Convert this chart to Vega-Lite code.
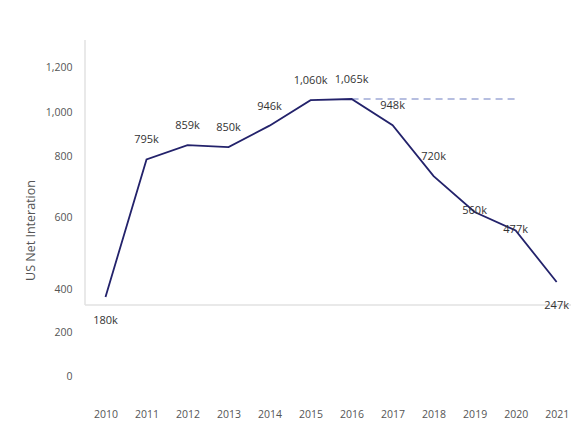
{
  "$schema": "https://vega.github.io/schema/vega-lite/v6.json",
  "autosize": "none",
  "padding": {"left": 85, "top": 40, "right": 0, "bottom": 23},
  "width": 486,
  "height": 360,
  "background": "white",
  "config": {"view": {"stroke": null}, "font": "Open Sans"},
  "datasets": {
    "net": [
      {"year": 2010, "v": 180},
      {"year": 2011, "v": 795},
      {"year": 2012, "v": 859},
      {"year": 2013, "v": 850},
      {"year": 2014, "v": 946},
      {"year": 2015, "v": 1060},
      {"year": 2016, "v": 1065},
      {"year": 2017, "v": 948},
      {"year": 2018, "v": 720},
      {"year": 2019, "v": 560},
      {"year": 2020, "v": 477},
      {"year": 2021, "v": 247}
    ],
    "frame": [
      {"x": 2009.5, "x2": 2009.5, "y": 144, "y2": 1329},
      {"x": 2009.5, "x2": 2021.35, "y": 144, "y2": 144}
    ],
    "ref": [
      {"x": 2016, "x2": 2020, "y": 1065}
    ]
  },
  "layer": [
    {
      "data": {"name": "frame"},
      "mark": {"type": "rule", "color": "#e2e2e2", "strokeWidth": 1.5},
      "encoding": {
        "x": {"field": "x", "type": "quantitative", "scale": {"domain": [2009.5, 2021.35], "nice": false, "zero": false},
          "axis": {"values": [2010, 2011, 2012, 2013, 2014, 2015, 2016, 2017, 2018, 2019, 2020, 2021], "format": "d", "title": null, "domain": false, "ticks": false, "grid": false, "labelPadding": 9, "labelColor": "#555555", "labelFontSize": 10.5, "labelFlush": false}},
        "x2": {"field": "x2"},
        "y": {"field": "y", "type": "quantitative", "scale": {"domain": [-281, 1329], "nice": false, "zero": false},
          "axis": {"values": [1204, 1007, 806, 533, 211, 23, -178],
            "labelExpr": "datum.value > 1100 ? '1,200' : datum.value > 900 ? '1,000' : datum.value > 700 ? '800' : datum.value > 400 ? '600' : datum.value > 100 ? '400' : datum.value > 0 ? '200' : '0'",
            "title": "US Net Interation", "titleFontWeight": "normal", "titleFontSize": 12.5, "titleColor": "#555555", "titleX": -55, "titleY": 190, "titleAngle": -90, "titleAlign": "center", "titleBaseline": "middle",
            "domain": false, "ticks": false, "grid": false, "labelPadding": 13, "labelColor": "#555555", "labelFontSize": 10.5}},
        "y2": {"field": "y2"}
      }
    },
    {
      "data": {"name": "ref"},
      "mark": {"type": "rule", "color": "#9fa9d6", "strokeWidth": 1.5, "strokeDash": [7, 5]},
      "encoding": {
        "x": {"field": "x", "type": "quantitative"},
        "x2": {"field": "x2"},
        "y": {"field": "y", "type": "quantitative"}
      }
    },
    {
      "data": {"name": "net"},
      "layer": [
        {
          "mark": {"type": "line", "color": "#23226b", "strokeWidth": 1.8},
          "encoding": {
            "x": {"field": "year", "type": "quantitative"},
            "y": {"field": "v", "type": "quantitative"}
          }
        },
        {
          "transform": [
            {"filter": {"field": "year", "oneOf": [2011, 2012, 2013, 2014, 2015, 2016, 2017, 2018]}},
            {"calculate": "format(datum.v, ',') + 'k'", "as": "label"}
          ],
          "mark": {"type": "text", "dy": -19, "fontSize": 11, "color": "#333333"},
          "encoding": {
            "x": {"field": "year", "type": "quantitative"},
            "y": {"field": "v", "type": "quantitative"},
            "text": {"field": "label"}
          }
        },
        {
          "transform": [
            {"filter": {"field": "year", "oneOf": [2010, 2021]}},
            {"calculate": "format(datum.v, ',') + 'k'", "as": "label"}
          ],
          "mark": {"type": "text", "dy": 24, "fontSize": 11, "color": "#333333"},
          "encoding": {
            "x": {"field": "year", "type": "quantitative"},
            "y": {"field": "v", "type": "quantitative"},
            "text": {"field": "label"}
          }
        },
        {
          "transform": [
            {"filter": {"field": "year", "oneOf": [2019, 2020]}},
            {"calculate": "format(datum.v, ',') + 'k'", "as": "label"}
          ],
          "mark": {"type": "text", "dy": -1, "fontSize": 11, "color": "#333333"},
          "encoding": {
            "x": {"field": "year", "type": "quantitative"},
            "y": {"field": "v", "type": "quantitative"},
            "text": {"field": "label"}
          }
        }
      ]
    }
  ]
}
